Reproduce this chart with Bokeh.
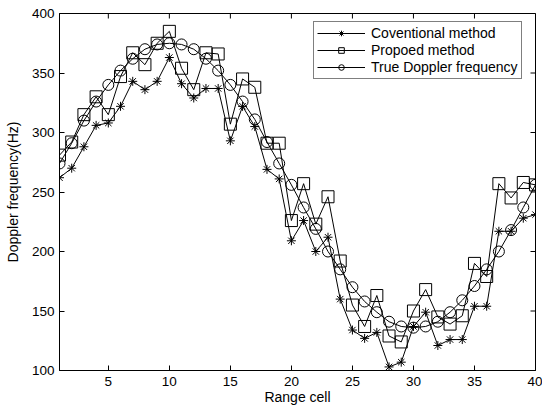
import math
from bokeh.plotting import figure
from bokeh.models import FixedTicker, Range1d, Legend, LegendItem
from bokeh.embed import file_html
from bokeh.resources import INLINE

cells = list(range(1, 41))
conventional = [262, 270, 288, 306, 308, 322, 343, 336, 343, 363,
                341, 329, 337, 337, 293, 322, 305, 269, 261, 209,
                226, 200, 212, 160, 134, 127, 132, 103, 107, 137,
                149, 121, 126, 126, 154, 154, 217, 217, 228, 231]
proposed = [281, 292, 315, 330, 315, 347, 367, 357, 375, 385,
            354, 336, 367, 366, 307, 345, 338, 291, 291, 226,
            257, 223, 246, 192, 155, 137, 163, 129, 124, 150,
            168, 145, 139, 146, 190, 179, 257, 245, 258, 256]
true_freq = [274, 291, 310, 326, 340, 352, 362, 370, 374, 375,
             374, 370, 362, 352, 340, 326, 311, 292, 274, 256,
             237, 219, 200, 185, 170, 158, 149, 141, 137, 136,
             137, 141, 149, 159, 171, 185, 200, 218, 237, 256]
x_ticks = [5, 10, 15, 20, 25, 30, 35, 40]
y_ticks = [100, 150, 200, 250, 300, 350, 400]
x_min, x_max = 1, 40
y_min, y_max = 100, 400

FONT = "Liberation Sans"

p = figure(width=542, height=407, output_backend="svg", toolbar_location=None,
           x_range=Range1d(x_min, x_max), y_range=Range1d(y_min, y_max),
           min_border_left=59, min_border_right=7, min_border_top=13, min_border_bottom=35,
           x_axis_label="Range cell", y_axis_label="Doppler frequency(Hz)")
p.grid.visible = False
p.outline_line_color = "black"
p.outline_line_width = 1
p.background_fill_color = "white"
p.border_fill_color = "white"

def style_axis(ax, ticks):
    ax.ticker = FixedTicker(ticks=ticks)
    ax.major_tick_in = 5
    ax.major_tick_out = 0
    ax.minor_tick_line_color = None
    ax.axis_line_color = "black"
    ax.major_tick_line_color = "black"
    ax.major_label_text_font = FONT
    ax.major_label_text_color = "black"
    ax.major_label_text_font_size = "13.5px"
    ax.axis_label_text_font = FONT
    ax.axis_label_text_font_size = "14px"
    ax.axis_label_text_font_style = "normal"
    ax.axis_label_text_color = "black"

style_axis(p.xaxis[0], x_ticks)
style_axis(p.yaxis[0], y_ticks)
p.xaxis[0].major_label_standoff = 6
p.xaxis[0].axis_label_standoff = 0
p.yaxis[0].major_label_standoff = 5
p.yaxis[0].axis_label_standoff = 8

# inward tick marks on the top and right edges of the box
p.scatter(x_ticks, [y_max] * len(x_ticks), marker="dash", angle=math.pi / 2,
          size=10, line_color="black", line_width=1)
p.scatter([x_max] * len(y_ticks), y_ticks, marker="dash",
          size=10, line_color="black", line_width=1)

r1l = p.line(cells, conventional, line_color="black", line_width=1)
r1m = p.scatter(cells, conventional, marker="asterisk", size=9, line_color="black", line_width=1)
r2l = p.line(cells, proposed, line_color="black", line_width=1)
r2m = p.scatter(cells, proposed, marker="square", size=12, line_color="black", fill_color=None, line_width=1)
r3l = p.line(cells, true_freq, line_color="black", line_width=1)
r3m = p.scatter(cells, true_freq, marker="circle", size=11, line_color="black", fill_color=None, line_width=1)

legend = Legend(items=[
    LegendItem(label="Coventional method", renderers=[r1l, r1m]),
    LegendItem(label="Propoed method", renderers=[r2l, r2m]),
    LegendItem(label="True Doppler frequency", renderers=[r3l, r3m]),
], location=(254, 291))
legend.label_text_font = FONT
legend.label_text_font_size = "14px"
legend.label_text_color = "black"
legend.glyph_width = 48
legend.glyph_height = 14
legend.label_height = 14
legend.spacing = 1
legend.padding = 3
legend.label_standoff = 6
legend.border_line_color = "black"
legend.border_line_width = 1
legend.background_fill_color = "white"
legend.background_fill_alpha = 1
legend.margin = 0
p.add_layout(legend, "center")

open("out.html", "w").write(file_html(p, INLINE))
